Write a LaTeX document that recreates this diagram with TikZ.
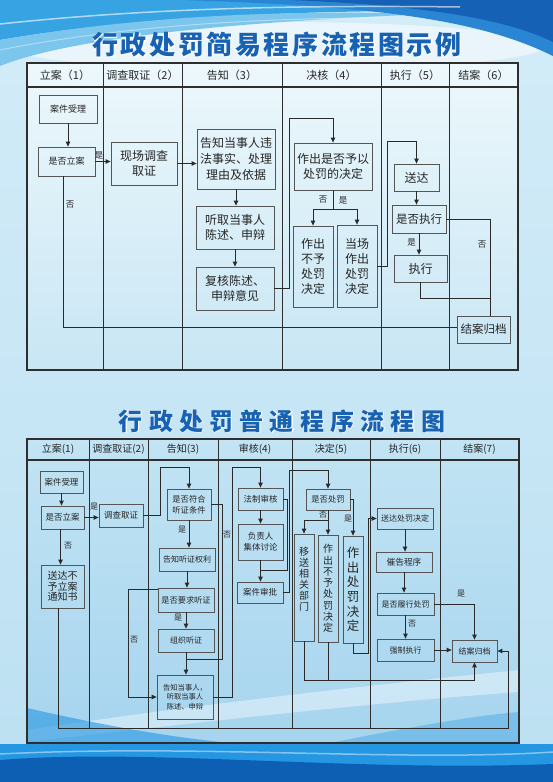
\documentclass[tikz,border=0pt]{standalone}
\usepackage{fontspec}
\setmainfont{Noto Sans CJK SC}
\newfontfamily\titlefa[LetterSpace=10]{Noto Sans CJK SC}
\newfontfamily\titlefaw[LetterSpace=10,FakeBold=3,BoldFeatures={FakeBold=3}]{Noto Sans CJK SC}
\newfontfamily\titlefb[LetterSpace=26]{Noto Sans CJK SC}
\newfontfamily\titlefbw[LetterSpace=26,FakeBold=3,BoldFeatures={FakeBold=3}]{Noto Sans CJK SC}
\usetikzlibrary{arrows.meta,calc}
\newcommand\fsz[2]{\fontsize{#1}{#2}\selectfont}
\definecolor{bgtop}{HTML}{D3ECF8}
\definecolor{bgbot}{HTML}{BCE0F2}
\definecolor{tatop}{HTML}{EDF8FC}
\definecolor{tabot}{HTML}{C8E6F4}
\definecolor{tbtop}{HTML}{C2E4F4}
\definecolor{tbbot}{HTML}{A6D4EE}
\definecolor{cyanA}{HTML}{37A3E2}
\definecolor{cyanL}{HTML}{7CC6EE}
\definecolor{darkB}{HTML}{1461B6}
\definecolor{midB}{HTML}{2A86D2}
\definecolor{botA}{HTML}{2496E2}
\definecolor{botB}{HTML}{0D5FB4}
\definecolor{titc}{HTML}{1762B2}
\definecolor{tblc}{HTML}{2E2E2E}
\definecolor{boxc}{HTML}{555555}
\definecolor{linec}{HTML}{2A2A2A}
\definecolor{txtc}{HTML}{262626}
\begin{document}
\begin{tikzpicture}[x=1pt,y=-1pt,
  tbl/.style={draw=tblc,line width=1.1pt},
  box/.style={draw=boxc,line width=0.8pt,inner sep=0pt,align=center,text=txtc},
  con/.style={draw=linec,line width=0.9pt},
  arr/.style={con,-{Triangle[length=5pt,width=4.5pt]}},
  lba/.style={inner sep=0pt,text=txtc,font=\fsz{8.5}{9}},
  lbb/.style={inner sep=0pt,text=txtc,font=\fsz{8}{8}},
  hda/.style={inner sep=0pt,text=txtc,font=\fsz{11}{12}},
  hdb/.style={inner sep=0pt,text=txtc,font=\fsz{10}{11}}]
\useasboundingbox (0,0) rectangle (553,782);
% ---------- background ----------
\shade[top color=bgtop,bottom color=bgbot] (0,0) rectangle (553,782);
\fill[white,opacity=0.55] (276,46) ellipse (270 and 24);
\fill[cyanA] (0,0) -- (553,0) -- (553,14) .. controls (380,6) and (150,14) .. (0,40) -- cycle;
\fill[cyanL] (0,40) .. controls (150,14) and (300,10) .. (430,14) .. controls (230,22) and (70,38) .. (0,66) -- cycle;
\fill[midB] (180,0) .. controls (380,6) and (480,20) .. (553,56) -- (553,0) -- cycle;
\fill[darkB] (290,0) .. controls (410,5) and (500,16) .. (553,42) -- (553,0) -- cycle;
\draw[white,opacity=0.6,line width=1.5pt] (0,24) .. controls (150,8) and (300,5) .. (460,7);
\draw[white,opacity=0.4,line width=1pt] (0,50) .. controls (120,26) and (260,18) .. (380,18);
% table 1 interior
\shade[top color=tatop,bottom color=tabot] (27,63) rectangle (518,370);
% table 2 interior
\shade[top color=tbtop,bottom color=tbbot] (27,439) rectangle (519,743);
\fill[white,opacity=0.4] (27,730) .. controls (200,704) and (380,684) .. (519,670) -- (519,692) .. controls (380,702) and (200,722) .. (27,742) -- cycle;
\fill[botA,opacity=0.6] (27,708) .. controls (80,720) and (150,735) .. (230,743) -- (27,743) -- cycle;
\fill[botA,opacity=0.35] (330,743) .. controls (420,725) and (480,715) .. (519,712) -- (519,743) -- cycle;
% bottom waves
\fill[botA] (0,744) -- (553,744) -- (553,782) -- (0,782) -- cycle;
\fill[botB] (0,760) .. controls (150,748) and (350,772) .. (553,764) -- (553,782) -- (0,782) -- cycle;
\draw[white,opacity=0.45,line width=1.5pt] (0,754) .. controls (200,744) and (400,762) .. (553,752);
% ---------- titles ----------
\node[inner sep=0pt,text=white,font=\titlefaw\bfseries\fsz{26}{26}] (t1w) at (277,45) {行政处罚简易程序流程图示例};
\node[inner sep=0pt,text=titc,font=\titlefa\bfseries\fsz{26}{26}] (t1) at (277,45) {行政处罚简易程序流程图示例};
\node[inner sep=0pt,text=white,font=\titlefbw\bfseries\fsz{24}{24}] (t2w) at (282,421) {行政处罚普通程序流程图};
\node[inner sep=0pt,text=titc,font=\titlefb\bfseries\fsz{24}{24}] (t2) at (282,421) {行政处罚普通程序流程图};
% ---------- table 1 grid ----------
\draw[tbl] (27,63) rectangle (518,370);
\draw[tbl,line width=1.8pt] (27,370) -- (518,370);
\draw[tbl,line width=1.6pt] (27,63) -- (518,63);
\draw[tbl] (27,87) -- (518,87);
\foreach \xx in {103,182,282,381,449} \draw[tbl,line width=0.9pt] (\xx,63) -- (\xx,370);
\node[hda] (ph1) at (65,75) {立案（1）};
\node[hda] (ph2) at (142.5,75) {调查取证（2）};
\node[hda] (ph3) at (232,75) {告知（3）};
\node[hda] (ph4) at (331.5,75) {决核（4）};
\node[hda] (ph5) at (415,75) {执行（5）};
\node[hda] (ph6) at (483.5,75) {结案（6）};
% table 1 boxes
\node[box,minimum width=58pt,minimum height=28pt,font=\fsz{9}{11}] (pa1) at (68,109) {案件受理};
\node[box,minimum width=57pt,minimum height=29pt,font=\fsz{9}{11}] (pa2) at (66.5,161.5) {是否立案};
\node[box,minimum width=66pt,minimum height=43pt,font=\fsz{12}{15}] (pb1) at (144,163.5) {现场调查\\取证};
\node[box,minimum width=78pt,minimum height=60pt,font=\fsz{12}{16}] (pc1) at (236,159) {告知当事人违\\法事实、处理\\理由及依据};
\node[box,minimum width=78pt,minimum height=43pt,font=\fsz{12}{15.5}] (pc2) at (235,227.5) {听取当事人\\陈述、申辩};
\node[box,minimum width=78pt,minimum height=43pt,font=\fsz{12}{15.5}] (pc3) at (235,288.5) {复核陈述、\\申辩意见};
\node[box,minimum width=78pt,minimum height=47pt,font=\fsz{12}{15.5}] (pd1) at (333,166.5) {作出是否予以\\处罚的决定};
\node[box,minimum width=40pt,minimum height=81pt,font=\fsz{12}{15}] (pd2) at (313,266.5) {作出\\不予\\处罚\\决定};
\node[box,minimum width=40pt,minimum height=82pt,font=\fsz{12}{15}] (pd3) at (357,266) {当场\\作出\\处罚\\决定};
\node[box,minimum width=45pt,minimum height=27pt,font=\fsz{12}{14}] (pe1) at (416.5,177.5) {送达};
\node[box,minimum width=54pt,minimum height=28pt,font=\fsz{11.5}{14}] (pe2) at (419,219) {是否执行};
\node[box,minimum width=53pt,minimum height=27pt,font=\fsz{12}{14}] (pe3) at (420.5,268.5) {执行};
\node[box,minimum width=53pt,minimum height=27pt,font=\fsz{11.5}{14}] (pf1) at (483.5,329.5) {结案归档};
% table 1 connectors
\draw[arr] (pa1.south) -- (pa1.south |- pa2.north);
\draw[arr] (pa2.east) -- (pa2.east -| pb1.west);
\draw[arr] (pb1.east) -- (pb1.east -| pc1.west);
\draw[arr] (pc1.south) -- (pc1.south |- pc2.north);
\draw[arr] (pc2.south) -- (pc2.south |- pc3.north);
\coordinate (pk1) at (289,118);
\draw[arr] (pc3.east) -| (pk1) -| (pd1.north);
\coordinate (pk2) at (333,209);
\draw[con] (pd1.south) -- (pk2);
\draw[arr] (pk2) -| (pd2.north);
\draw[arr] (pk2) -| (pd3.north);
\coordinate (pk3) at (387,141);
\draw[arr] (pd3.east) -| (pk3) -| (pe1.north);
\draw[arr] (pe1.south) -- (pe1.south |- pe2.north);
\draw[arr] (pe2.south) -- (pe2.south |- pe3.north);
\coordinate (pk4) at (490,298);
\draw[con] (pe2.east) -| (pk4 |- pf1.north);
\draw[con] (pe3.south) |- (pk4);
\coordinate (pk5) at (63,327);
\draw[con] (pa2.south -| pk5) -- (pk5) -- (pk5 -| pf1.west);
\node[lba] (pl1) at (99,155) {是};
\node[lba] (pl2) at (70,205) {否};
\node[lba] (pl3) at (323,200) {否};
\node[lba] (pl4) at (343,200) {是};
\node[lba] (pl5) at (411.5,242) {是};
\node[lba] (pl6) at (482,245) {否};
% ---------- table 2 grid ----------
\draw[tbl] (27,439) rectangle (519,743);
\draw[tbl,line width=2.6pt] (27,743) -- (519,743);
\draw[tbl,line width=1.6pt] (27,439) -- (519,439);
\draw[tbl] (27,460) -- (519,460);
\foreach \xx in {89,148,218,292,370,440} \draw[tbl,line width=0.9pt] (\xx,439) -- (\xx,728);
\node[hdb] (qh1h) at (58,449.5) {立案(1)};
\node[hdb] (qh2h) at (118.5,449.5) {调查取证(2)};
\node[hdb] (qh3h) at (183,449.5) {告知(3)};
\node[hdb] (qh4h) at (255,449.5) {审核(4)};
\node[hdb] (qh5h) at (331,449.5) {决定(5)};
\node[hdb] (qh6h) at (405,449.5) {执行(6)};
\node[hdb] (qh7h) at (479.5,449.5) {结案(7)};
% table 2 boxes
\node[box,minimum width=43pt,minimum height=22pt,font=\fsz{8.5}{10}] (qg1) at (61.5,482) {案件受理};
\node[box,minimum width=43pt,minimum height=23pt,font=\fsz{8.5}{10}] (qg2) at (62.5,517.5) {是否立案};
\node[box,minimum width=43pt,minimum height=43pt,font=\fsz{10}{10.5}] (qg3) at (62.5,586.5) {送达不\\予立案\\通知书};
\node[box,minimum width=44pt,minimum height=23pt,font=\fsz{8.5}{10}] (qh1) at (121,515.5) {调查取证};
\node[box,minimum width=44pt,minimum height=31pt,font=\fsz{8.3}{11}] (qi1) at (189,504.5) {是否符合\\听证条件};
\node[box,minimum width=56pt,minimum height=23pt,font=\fsz{8}{10}] (qi2) at (187,559.5) {告知听证权利};
\node[box,minimum width=56pt,minimum height=24pt,font=\fsz{8.2}{10}] (qi3) at (186,600) {是否要求听证};
\node[box,minimum width=56pt,minimum height=23pt,font=\fsz{8}{10}] (qi4) at (186,640.5) {组织听证};
\node[box,minimum width=56pt,minimum height=44pt,font=\fsz{7.3}{9.5}] (qi5) at (185,697) {告知当事人，\\听取当事人\\陈述、申辩};
\node[box,minimum width=45pt,minimum height=22pt,font=\fsz{8.5}{10}] (qj1) at (260.5,499) {法制审核};
\node[box,minimum width=45pt,minimum height=36pt,font=\fsz{8.5}{10.7}] (qj2) at (260.5,542) {负责人\\集体讨论};
\node[box,minimum width=46pt,minimum height=21pt,font=\fsz{8.5}{10}] (qj3) at (260,592.5) {案件审批};
\node[box,minimum width=44pt,minimum height=21pt,font=\fsz{8.3}{10}] (qk1) at (328,499.5) {是否处罚};
\node[box,minimum width=20pt,minimum height=107pt,font=\fsz{10}{11}] (qk2) at (304,587.5) {移\\送\\相\\关\\部\\门\\[6pt]\mbox{}};
\node[box,minimum width=20pt,minimum height=107pt,font=\fsz{10}{11.3}] (qk3) at (328,588.5) {作\\出\\不\\予\\处\\罚\\决\\定};
\node[box,minimum width=20pt,minimum height=107pt,font=\fsz{12.5}{14.7}] (qk4) at (353,589.5) {作\\出\\处\\罚\\决\\定};
\node[box,minimum width=56pt,minimum height=21pt,font=\fsz{8}{10}] (ql1) at (405,518.5) {送达处罚决定};
\node[box,minimum width=56pt,minimum height=20pt,font=\fsz{8.7}{10}] (ql2) at (404,562) {催告程序};
\node[box,minimum width=57pt,minimum height=22pt,font=\fsz{8}{10}] (ql3) at (405.5,604) {是否履行处罚};
\node[box,minimum width=57pt,minimum height=22pt,font=\fsz{8}{10}] (ql4) at (405.5,650) {强制执行};
\node[box,minimum width=45pt,minimum height=22pt,font=\fsz{8}{10}] (qm1) at (474.5,651) {结案归档};
% table 2 connectors
\draw[arr] (qg1.south) -- (qg1.south |- qg2.north);
\draw[arr] (qg2.east) -- (qg2.east -| qh1.west);
\draw[arr] ([xshift=-2pt]qg2.south) -- ([xshift=-2pt]qg2.south |- qg3.north);
\coordinate (qr1) at (160,467);
\draw[arr] (qh1.east) -| (qr1) -| (qi1.north);
\draw[arr] (qi1.south) -- (qi1.south |- qi2.north);
\coordinate (qr2) at (222,659);
\draw[con] (qi1.east) -| (qr2) -- (qr2 -| qi4.south);
\draw[arr] (qi2.south) -- (qi2.south |- qi3.north);
\draw[arr] (qi3.south) -- (qi3.south |- qi4.north);
\draw[arr] (qi3.160) -- ++(-29,0) |- (qi5.west);
\draw[arr] (qi4.south) -- (qi4.south |- qi5.north);
\coordinate (qr3) at (232,467);
\draw[arr] (qi5.east) -| (qr3) -| (qj1.north);
\draw[arr] (qj1.south) -- (qj1.south |- qj2.north);
\draw[arr] (qj2.south) -- (qj2.south |- qj3.north);
\coordinate (qr4) at (287,570);
\draw[con] (qj1.east) -| (qr4) -- (qr4 -| qj3.north);
\coordinate (qr5) at (289.5,470);
\draw[arr] (qj3.east) -| (qr5) -| (qk1.north);
\coordinate (qr6) at (328,520);
\draw[arr] (qk1.south) -- (qk1.south |- qk3.north);
\draw[arr] (qr6) -| (qk2.north);
\draw[arr] (qk1.east) -| (qk4.north);
\coordinate (qr7) at (368,653);
\draw[arr] (qk4.south) |- (qr7) |- (ql1.west);
\draw[arr] (ql1.south) -- (ql1.south |- ql2.north);
\draw[arr] (ql2.south) -- (ql2.south |- ql3.north);
\draw[arr] (ql3.south) -- (ql3.south |- ql4.north);
\draw[arr] (ql3.east) -| (qm1.north);
\draw[arr] (ql4.east) -- (ql4.east -| qm1.west);
\coordinate (qr8) at (474.5,680);
\draw[arr] (qk2.south) |- (qr8) -- (qm1.south);
\draw[con] (qk3.south) -- (qk3.south |- qr8);
\coordinate (qr9) at (508,728);
\draw[arr] ([xshift=-4pt]qg3.south) |- (qr9) |- (qm1.east);
\node[lbb] (ql_1) at (94,507) {是};
\node[lbb] (ql_2) at (68,546) {否};
\node[lbb] (ql_3) at (182,530) {是};
\node[lbb] (ql_4) at (227,535) {否};
\node[lbb] (ql_5) at (178,618) {是};
\node[lbb] (ql_6) at (134,640) {否};
\node[lbb] (ql_7) at (323,515) {否};
\node[lbb] (ql_8) at (348,519) {是};
\node[lbb] (ql_9) at (412,624) {否};
\node[lbb] (ql_10) at (461,594) {是};
\end{tikzpicture}
\end{document}
